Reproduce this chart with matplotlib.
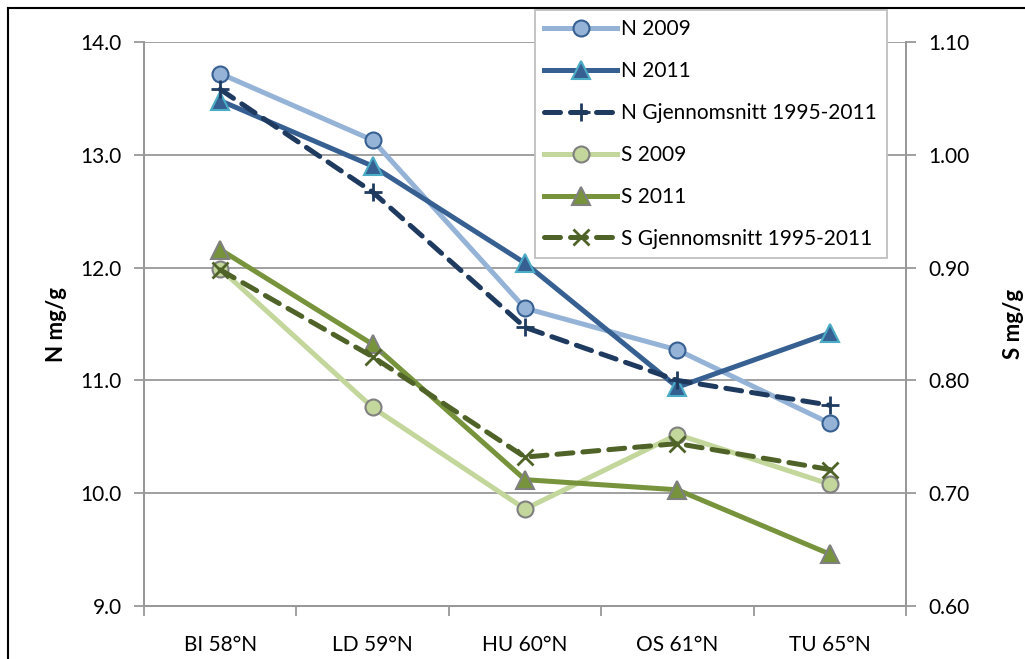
# %%
import matplotlib
matplotlib.use('Agg')
import matplotlib.pyplot as plt
from matplotlib.lines import Line2D
from matplotlib.ticker import FormatStrFormatter

plt.rcParams['font.family'] = ['Lato', 'DejaVu Sans']

# %%
stations = ['BI 58°N', 'LD 59°N', 'HU 60°N', 'OS 61°N', 'TU 65°N']

n_2009 = [13.72, 13.13, 11.64, 11.27, 10.62]
n_2011 = [13.48, 12.90, 12.04, 10.94, 11.42]
n_mean = [13.58, 12.67, 11.47, 11.00, 10.78]

s_2009 = [0.899, 0.776, 0.686, 0.752, 0.708]
s_2011 = [0.916, 0.832, 0.712, 0.703, 0.646]
s_mean = [0.898, 0.821, 0.732, 0.744, 0.721]

n_ticks = [9.0, 10.0, 11.0, 12.0, 13.0, 14.0]
s_ticks = [0.60, 0.70, 0.80, 0.90, 1.00, 1.10]

# %%
fig = plt.figure(figsize=(10.25, 6.59), dpi=100)
ax = fig.add_axes([144 / 1025, 53 / 659, 762 / 1025, 564 / 659])
ax2 = ax.twinx()

x = list(range(len(stations)))
grey = '#989898'
lw = 3.6
fs = 15

h1, = ax.plot(x, n_2009, color='#95B3D7', lw=lw, marker='o', ms=11.5,
              mfc='#95B3D7', mec='#376092', mew=1.5, label='N 2009', zorder=4)
h2, = ax.plot(x, n_2011, color='#376092', lw=lw, marker='^', ms=12.5,
              mfc='#376092', mec='#4BACC6', mew=1.5, label='N 2011', zorder=4)
h3, = ax.plot(x, n_mean, color='#1F3A5F', lw=lw, ls=(0, (3.2, 2.0)),
              dash_capstyle='round', marker='+', ms=13, mew=2,
              label='N Gjennomsnitt 1995-2011', zorder=4)

h4, = ax2.plot(x, s_2009, color='#C3D69B', lw=lw, marker='o', ms=11.5,
               mfc='#C3D69B', mec='#808080', mew=1.5, label='S 2009')
h5, = ax2.plot(x, s_2011, color='#77933C', lw=lw, marker='^', ms=12.5,
               mfc='#77933C', mec='#808080', mew=1.5, label='S 2011')
h6, = ax2.plot(x, s_mean, color='#4F6228', lw=lw, ls=(0, (3.2, 2.0)),
               dash_capstyle='round', marker='x', ms=11, mew=2,
               label='S Gjennomsnitt 1995-2011')

# left axis
ax.set_xlim(-0.5, 4.5)
ax.set_ylim(9, 14)
ax.set_yticks(n_ticks)
ax.yaxis.set_major_formatter(FormatStrFormatter('%.1f'))
ax.grid(axis='y', color=grey, lw=1.3, zorder=0)
ax.set_axisbelow(True)
ax.set_xticks(x)
ax.set_xticklabels(stations)
ax.set_xticks([i + 0.5 for i in range(-1, len(stations))], minor=True)
ax.tick_params(axis='x', which='major', length=0, pad=21, labelsize=fs)
ax.tick_params(axis='x', which='minor', length=7, color=grey, width=1.3)
ax.tick_params(axis='y', length=7, color=grey, width=1.3, labelsize=fs, pad=9)
ax.set_ylabel('N mg/g', fontsize=fs + 1, fontweight='bold', labelpad=10)

# right axis
ax2.set_ylim(0.6, 1.1)
ax2.set_yticks(s_ticks)
ax2.yaxis.set_major_formatter(FormatStrFormatter('%.2f'))
ax2.tick_params(axis='y', length=7, color=grey, width=1.3, labelsize=fs, pad=9)
ax2.set_ylabel('S mg/g', fontsize=fs + 1, fontweight='bold', labelpad=24,
               rotation=90)

for a in (ax, ax2):
    a.spines['top'].set_visible(False)
    for side in ('left', 'right', 'bottom'):
        a.spines[side].set_color(grey)
        a.spines[side].set_linewidth(1.3)

leg = ax2.legend(handles=[h1, h2, h3, h4, h5, h6], loc='upper left',
                 bbox_to_anchor=(535 / 1025, 1 - 10 / 659),
                 bbox_transform=fig.transFigure, fontsize=fs,
                 fancybox=False, framealpha=1, edgecolor='#BFBFBF',
                 borderaxespad=0, borderpad=0.45, labelspacing=1.05,
                 handlelength=3.5, handletextpad=0.2)
leg.get_frame().set_linewidth(1.3)
leg.set_zorder(10)

# outer frame of the chart area
fig.add_artist(Line2D([8 / 1025, 8 / 1025], [0, 1 - 8 / 659],
                      color='black', lw=1.5))
fig.add_artist(Line2D([8 / 1025, 1], [1 - 8 / 659, 1 - 8 / 659],
                      color='black', lw=1.5))

fig.savefig('out.png', dpi=100)
